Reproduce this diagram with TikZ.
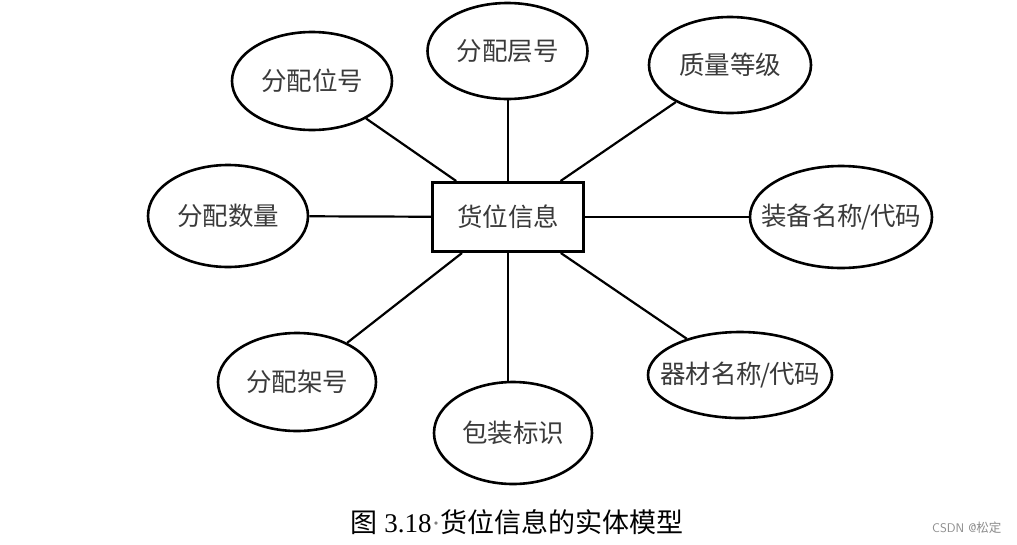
\documentclass[tikz,border=0pt]{standalone}
\usepackage{fontspec}
\setmainfont{Liberation Serif}
\newfontfamily\cjk{Noto Sans CJK SC}
\usetikzlibrary{shapes.geometric}
\definecolor{txt}{HTML}{3A3A3A}
\tikzset{
  attr/.style={ellipse, draw=black, line width=2.6pt, inner sep=-40pt, font=\cjk\fontsize{25.5}{28}\selectfont, text=txt},
  entity/.style={rectangle, draw=black, line width=3pt, inner sep=0pt, minimum width=151pt, minimum height=69pt, font=\cjk\fontsize{25.5}{28}\selectfont, text=txt},
  link/.style={draw=black, line width=2.2pt}
}
\begin{document}
\begin{tikzpicture}[x=1pt,y=-1pt]
\useasboundingbox[fill=white] (0,0) rectangle (1017,544);
\node[entity] (e) at (508,217) {货位信息};
\node[attr, minimum width=160pt, minimum height=96pt] (cenghao) at (507.5,51) {分配层号};
\node[attr, minimum width=160pt, minimum height=98pt] (weihao) at (312,81) {分配位号};
\node[attr, minimum width=162pt, minimum height=96pt] (zhiliang) at (730,65) {质量等级};
\node[attr, minimum width=160pt, minimum height=102pt] (shuliang) at (228,216) {分配数量};
\node[attr, minimum width=182pt, minimum height=102pt] (zhuangbei) at (841,217) {装备名称\kern-1.5pt/\kern-1.5pt代码};
\node[attr, minimum width=158pt, minimum height=98pt] (jiahao) at (297,382) {分配架号};
\node[attr, minimum width=158pt, minimum height=102pt] (baozhuang) at (513,433) {包装标识};
\node[attr, minimum width=184pt, minimum height=86pt] (qicai) at (740,375) {器材名称\kern-1.5pt/\kern-1.5pt代码};
\draw[link] (e.north) -- (e.north |- cenghao.south);
\draw[link] (e) -- (weihao);
\draw[link] (e) -- (zhiliang);
\draw[link] (e) -- (shuliang);
\draw[link] (e) -- (zhuangbei);
\draw[link] (e) -- (jiahao);
\draw[link] (e.south) -- (e.south |- baozhuang.north);
\draw[link] (e) -- (qicai);
\node[font=\fontsize{27}{30}\selectfont, inner sep=0pt] (cap) at (517,522) {{\cjk 图} 3.18{\color{gray}·}{\cjk 货位信息的实体模型}};
\node[font=\fontsize{12.5}{14}\selectfont, text=black!45, inner sep=0pt, anchor=west] (wm) at (932,528) {\sffamily CSDN @{\cjk 松定}};
\end{tikzpicture}
\end{document}
